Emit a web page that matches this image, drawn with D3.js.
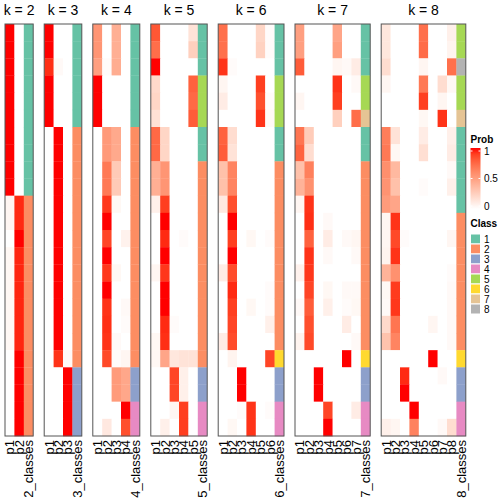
<!DOCTYPE html>
<html>
<head>
<meta charset="utf-8">
<script src="https://cdn.jsdelivr.net/npm/d3@7"></script>
<style>
  html, body { margin: 0; padding: 0; background: #fff; }
  svg { display: block; font-family: "Liberation Sans", Arial, Helvetica, sans-serif; }
</style>
</head>
<body>
<svg id="chart" width="504" height="504"></svg>
<script>
// ---------------- data ----------------
const kValues = [2, 3, 4, 5, 6, 7, 8];
const nSamples = 24;

const probK2 = [
  [1,0],[1,0],[1,0],[1,0],[1,0],[1,0],[1,0],[1,0],[1,0],[1,0],
  [0.05,0.95],[0.05,0.95],[0,1],[0.04,0.96],[0.04,0.96],[0.04,0.96],
  [0.04,0.96],[0.04,0.96],[0.04,0.96],[0,1],[0,1],[0,1],[0,1],[0,1]
];
const classK2 = [1,1,1,1,1,1,1,1,1,1,2,2,2,2,2,2,2,2,2,2,2,2,2,2];

const probK3 = [
  [1,0,0],[1,0,0],[0.94,0.03,0],[1,0,0],[1,0,0],[1,0,0],
  [0,1,0],[0,1,0],[0,1,0],[0,1,0],[0,1,0],[0,1,0],[0,1,0],
  [0,1,0],[0,1,0],[0,1,0],[0,1,0],[0,1,0],[0,1,0],[0,0.93,0.03],
  [0,0,1],[0,0,1],[0,0,1],[0,0,1]
];
const classK3 = [1,1,1,1,1,1,2,2,2,2,2,2,2,2,2,2,2,2,2,2,3,3,3,3];

const probK4 = [
  [0.55,0,0.42,0],[0.55,0,0.42,0],[0.5,0.02,0.43,0],[1,0,0,0],[1,0,0,0],[1,0,0,0],
  [0,0.53,0.45,0],[0,0.53,0.45,0],[0,0.68,0.28,0],[0,0.68,0.28,0],[0,0.92,0.04,0],
  [0,1,0,0],[0,0.88,0,0.07],[0,1,0,0],[0,0.92,0.04,0],[0,1,0,0],[0,0.93,0,0.03],
  [0,0.94,0,0.02],[0,0.93,0.03,0],[0,0.87,0.02,0.05],[0,0,0.52,0.46],[0,0,0.52,0.46],
  [0,0,0,1],[0,0.12,0,0.85]
];
const classK4 = [1,1,1,1,1,1,2,2,2,2,2,2,2,2,2,2,2,2,2,2,3,3,4,4];

const probK5 = [
  [0.82,0,0,0,0.15],[0.73,0,0,0,0.25],[1,0,0,0,0],[0.2,0,0,0,0.78],[0.22,0,0,0,0.75],
  [0.16,0,0,0,0.8],[0.75,0.22,0,0,0],[0.75,0.22,0,0,0],[0.42,0.55,0,0,0],[0.42,0.55,0,0,0],
  [0.08,0.9,0,0,0],[0,1,0,0,0],[0,0.95,0,0.02,0],[0,1,0,0,0],[0.05,0.92,0,0,0],
  [0,1,0,0,0],[0,1,0,0,0],[0,0.95,0.02,0,0],[0.04,0.94,0,0,0],[0.04,0.47,0.13,0.15,0.15],
  [0,0,0.88,0.08,0],[0,0,0.88,0.08,0],[0,0,0.05,0.9,0],[0,0.08,0,0.9,0]
];
const classK5 = [1,1,1,5,5,5,1,1,2,2,2,2,2,2,2,2,2,2,2,2,3,3,4,4];

const probK6 = [
  [0.72,0,0,0,0.22,0.02],[0.72,0,0,0,0.24,0.02],[0.93,0.02,0,0,0,0],[0.05,0,0,0,0.9,0],
  [0.1,0,0,0,0.85,0.02],[0,0,0,0,0.93,0.03],[0.78,0.18,0,0,0,0],[0.8,0.15,0,0,0,0],
  [0.33,0.63,0,0,0,0],[0.33,0.63,0,0,0,0],[0.12,0.85,0,0,0,0],[0,1,0,0,0,0],
  [0,0.9,0,0.04,0,0.02],[0,1,0,0,0,0],[0.1,0.86,0,0,0,0],[0,0.95,0,0,0,0.02],
  [0,0.9,0,0.04,0,0.02],[0,0.88,0,0,0,0.08],[0.1,0.86,0,0,0,0],[0,0.06,0,0,0,0.88],
  [0,0,1,0,0,0],[0,0,1,0,0,0],[0,0,0.02,0.93,0,0.02],[0,0.04,0,0.93,0,0]
];
const classK6 = [1,1,1,5,5,5,1,1,2,2,2,2,2,2,2,2,2,2,2,6,3,3,4,4];

const probK7 = [
  [0.5,0,0,0,0.47,0,0],[0.5,0,0,0,0.5,0,0],[0.8,0,0,0,0.05,0.03,0.1],[0,0,0,0,0.93,0,0.03],
  [0.05,0,0,0,0.9,0,0],[0,0,0,0,0.25,0,0.73],[0.7,0.27,0,0,0,0,0],[0.77,0.18,0,0,0,0,0],
  [0.33,0.65,0,0,0,0,0],[0.4,0.57,0,0,0,0,0],[0.05,0.93,0,0,0,0,0],[0,0.94,0,0.03,0,0,0],
  [0,0.78,0,0.1,0,0.03,0.05],[0,0.93,0,0.03,0,0,0.03],[0.07,0.92,0,0,0,0,0],
  [0,0.88,0,0.04,0,0.03,0.03],[0.03,0.8,0,0.08,0,0.02,0.04],[0,0.85,0,0,0,0.1,0],
  [0.06,0.87,0,0,0,0,0.03],[0,0,0,0,0,1,0],[0,0,1,0,0,0,0],[0,0,1,0,0,0,0],
  [0,0,0,0.88,0,0,0.1],[0,0,0,1,0,0,0]
];
const classK7 = [1,1,1,5,5,7,1,1,2,2,2,2,2,2,2,2,2,2,2,6,3,3,4,4];

const probK8 = [
  [0.13,0,0,0,0.72,0,0,0.08],[0.13,0,0,0,0.74,0,0,0.06],[0.18,0,0,0,0.05,0,0,0.72],
  [0.05,0,0,0,0.68,0,0.18,0.04],[0,0,0,0,0.9,0,0.05,0],[0,0,0,0,0.04,0,0.93,0],
  [0.66,0.15,0,0,0.1,0,0,0.08],[0.68,0.04,0,0,0.17,0,0,0.1],[0.58,0.37,0,0,0,0,0,0.03],
  [0.56,0.33,0,0,0.02,0,0,0.08],[0.52,0.47,0,0,0,0,0,0],[0.05,0.93,0,0,0,0,0,0],
  [0.05,0.87,0.02,0,0,0,0,0.05],[0.06,0.93,0,0,0,0,0,0],[0.4,0.57,0,0,0,0,0,0.02],
  [0.04,0.91,0,0,0,0,0,0.03],[0.03,0.92,0,0,0,0,0,0.03],[0.2,0.7,0,0,0,0.05,0,0.03],
  [0.32,0.63,0,0,0,0,0,0.03],[0,0,0,0,0,1,0,0],[0,0,0.95,0,0,0,0.03,0],
  [0,0,1,0,0,0,0,0],[0,0,0,1,0,0,0,0],[0.08,0.05,0,0.64,0,0,0.03,0.18]
];
const classK8 = [5,5,8,5,5,7,1,1,1,1,1,2,2,2,2,2,2,2,2,6,3,3,4,4];

const probList = [probK2, probK3, probK4, probK5, probK6, probK7, probK8];
const classList = [classK2, classK3, classK4, classK5, classK6, classK7, classK8];

const classIds = [1,2,3,4,5,6,7,8];
const classColors = ["#66C2A5","#FC8D62","#8DA0CB","#E78AC3","#A6D854","#FFD92F","#E5C494","#B3B3B3"];
const probTicks = [0, 0.5, 1];

// ---------------- layout ----------------
const svg = d3.select("#chart");
const topY = 24, bottomY = 436;
const cellW = 9.4, gap = 11, leftX = 5;

const yScale = d3.scaleBand().domain(d3.range(nSamples)).range([topY, bottomY]);
const probColor = d3.scaleLinear().domain([0, 1]).range(["#ffffff", "#ff0000"]).interpolate(d3.interpolateLab);
const classColor = d3.scaleOrdinal().domain(classIds).range(classColors);

let x0 = leftX;
kValues.forEach((k, pi) => {
  const cols = d3.range(1, k + 1).map(i => "p" + i).concat([k + "_classes"]);
  const xScale = d3.scaleBand().domain(cols).range([x0, x0 + cols.length * cellW]);
  const g = svg.append("g");
  const probs = probList[pi];
  const cls = classList[pi];

  const cells = [];
  probs.forEach((row, r) => {
    row.forEach((v, c) => cells.push({ r, col: cols[c], v }));
  });
  g.selectAll("rect.cell").data(cells).join("rect")
    .attr("class", "cell")
    .attr("x", d => xScale(d.col))
    .attr("y", d => yScale(d.r))
    .attr("width", xScale.bandwidth() + 0.3)
    .attr("height", yScale.bandwidth() + 0.3)
    .attr("fill", d => probColor(d.v));

  g.selectAll("rect.cls").data(cls).join("rect")
    .attr("class", "cls")
    .attr("x", xScale(cols[cols.length - 1]))
    .attr("y", (d, r) => yScale(r))
    .attr("width", xScale.bandwidth())
    .attr("height", yScale.bandwidth() + 0.3)
    .attr("fill", d => classColor(d));

  const [rx0, rx1] = xScale.range();
  g.append("rect")
    .attr("x", rx0).attr("y", topY)
    .attr("width", rx1 - rx0).attr("height", bottomY - topY)
    .attr("fill", "none").attr("stroke", "#555").attr("stroke-width", 1);

  const cx = Math.max((rx0 + rx1) / 2, 16);
  g.append("text")
    .attr("x", cx).attr("y", 15)
    .attr("text-anchor", "middle")
    .attr("font-size", 14)
    .attr("fill", "#000")
    .text("k = " + k);

  g.selectAll("text.col").data(cols).join("text")
    .attr("class", "col")
    .attr("transform", d => `translate(${xScale(d) + xScale.bandwidth() / 2},${bottomY + 4}) rotate(-90)`)
    .attr("dy", "0.36em")
    .attr("text-anchor", "end")
    .attr("font-size", 13)
    .attr("fill", "#000")
    .text(d => d);

  x0 = rx1 + gap;
});

// ---------------- legends ----------------
const lx = 470.5;
const lg = svg.append("g");
lg.append("text").attr("x", lx).attr("y", 143)
  .attr("font-size", 10).attr("font-weight", "bold").text("Prob");

const defs = svg.append("defs");
const grad = defs.append("linearGradient").attr("id", "probGrad")
  .attr("x1", 0).attr("y1", 1).attr("x2", 0).attr("y2", 0);
d3.range(0, 1.0001, 0.1).forEach(t => {
  grad.append("stop").attr("offset", t).attr("stop-color", probColor(t));
});
const legY = d3.scaleLinear().domain([0, 1]).range([206, 151]);
lg.append("rect").attr("x", lx).attr("y", 148).attr("width", 10).attr("height", 61)
  .attr("fill", "url(#probGrad)");
probTicks.forEach(t => {
  lg.append("line").attr("x1", lx).attr("x2", lx + 2).attr("y1", legY(t)).attr("y2", legY(t))
    .attr("stroke", "#fff").attr("stroke-width", 1);
  lg.append("line").attr("x1", lx + 8).attr("x2", lx + 10).attr("y1", legY(t)).attr("y2", legY(t))
    .attr("stroke", "#fff").attr("stroke-width", 1);
  lg.append("text").attr("x", 484).attr("y", legY(t)).attr("dy", "0.35em")
    .attr("font-size", 10).text(t === 0.5 ? "0.5" : String(t));
});

lg.append("text").attr("x", lx).attr("y", 227)
  .attr("font-size", 10).attr("font-weight", "bold").text("Class");
lg.selectAll("rect.leg").data(classIds).join("rect")
  .attr("class", "leg")
  .attr("x", lx).attr("y", (d, i) => 234 + i * 10)
  .attr("width", 10).attr("height", 10)
  .attr("fill", d => classColor(d)).attr("stroke", "#fff").attr("stroke-width", 1);
lg.selectAll("text.leg").data(classIds).join("text")
  .attr("class", "leg")
  .attr("x", 484).attr("y", (d, i) => 239 + i * 10).attr("dy", "0.35em")
  .attr("font-size", 10).text(d => d);
</script>
</body>
</html>
